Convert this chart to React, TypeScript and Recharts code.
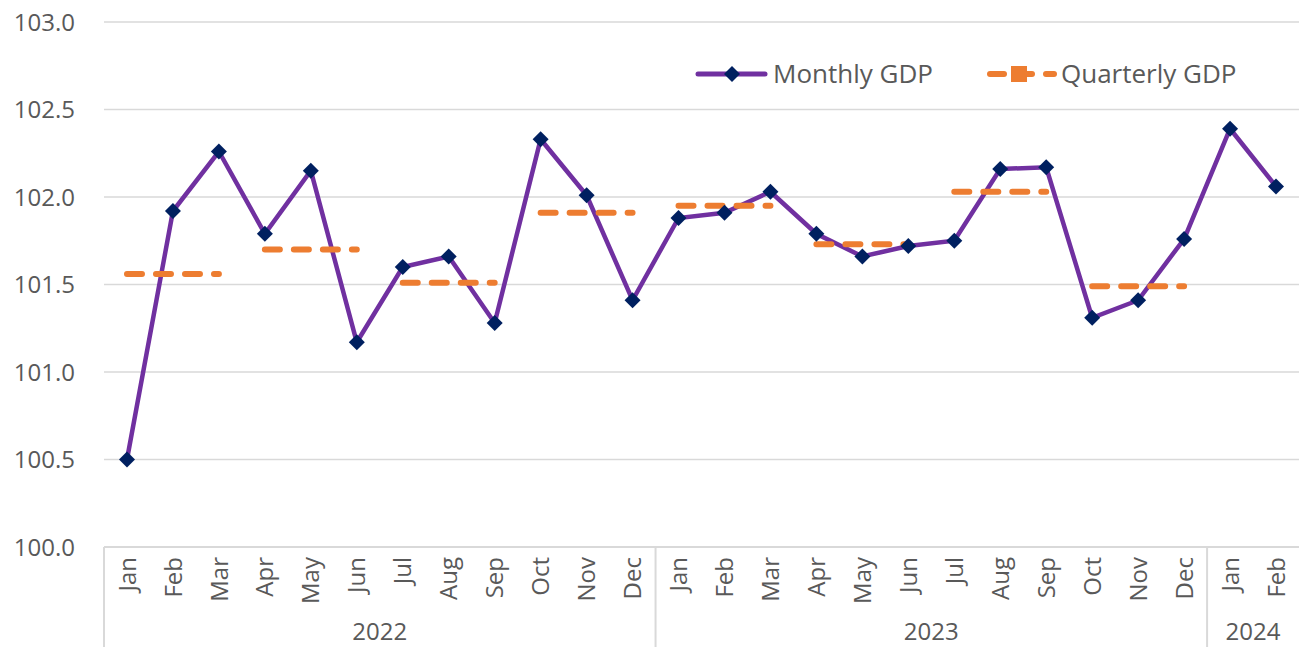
import React from 'react';
import { LineChart, Line, XAxis, YAxis, CartesianGrid, Legend } from 'recharts';

const monthLabels = [
  'Jan', 'Feb', 'Mar', 'Apr', 'May', 'Jun', 'Jul', 'Aug', 'Sep', 'Oct', 'Nov', 'Dec',
  'Jan', 'Feb', 'Mar', 'Apr', 'May', 'Jun', 'Jul', 'Aug', 'Sep', 'Oct', 'Nov', 'Dec',
  'Jan', 'Feb',
];
const yearLabels = ['2022', '2023', '2024'];
const monthsPerYear = [12, 12, 2];

const monthlyGDP = [
  100.50, 101.92, 102.26, 101.79, 102.15, 101.17, 101.60, 101.66, 101.28, 102.33, 102.01, 101.41,
  101.88, 101.91, 102.03, 101.79, 101.66, 101.72, 101.75, 102.16, 102.17, 101.31, 101.41, 101.76,
  102.39, 102.06,
];
const quarterlyGDP = [101.56, 101.70, 101.51, 101.91, 101.95, 101.73, 102.03, 101.49];
const yTicks = [100.0, 100.5, 101.0, 101.5, 102.0, 102.5, 103.0];

const data = monthLabels.map((m, i) => {
  const q = Math.floor(i / 3);
  const qv = q < quarterlyGDP.length ? quarterlyGDP[q] : null;
  return {
    i,
    month: m,
    monthly: monthlyGDP[i],
    qA: q % 2 === 0 ? qv : null,
    qB: q % 2 === 1 ? qv : null,
  };
});

// year boundaries and midpoints in index units
const yearBoundaries: number[] = [];
const yearMids: number[] = [];
{
  let start = 0;
  monthsPerYear.forEach((n) => {
    yearBoundaries.push(start - 0.5);
    yearMids.push(start + (n - 1) / 2);
    start += n;
  });
}
const yearAxisTicks = [...yearBoundaries, ...yearMids].sort((a, b) => a - b);

const FONT = '"Open Sans", sans-serif';
const TEXT = '#595959';
const GRID = '#d9d9d9';

const MonthTick = (props: any) => {
  const { x, y, payload } = props;
  const label = monthLabels[payload.value];
  if (label == null) return null;
  const ty = y + 10;
  return (
    <text
      x={x}
      y={ty}
      transform={`rotate(-90, ${x}, ${ty})`}
      textAnchor="end"
      dy="0.36em"
      fontSize={24}
      fontFamily={FONT}
      fill={TEXT}
    >
      {label}
    </text>
  );
};

const YearTick = (props: any) => {
  const { x, y, payload } = props;
  const v = payload.value;
  const bi = yearBoundaries.indexOf(v);
  if (bi >= 0) {
    return <line x1={x} x2={x} y1={y - 70} y2={y + 30} stroke={GRID} strokeWidth={2} />;
  }
  const mi = yearMids.indexOf(v);
  if (mi >= 0) {
    return (
      <text x={x} y={y + 14} dy="0.36em" textAnchor="middle" fontSize={24} fontFamily={FONT} fill={TEXT}>
        {yearLabels[mi]}
      </text>
    );
  }
  return null;
};

const YTick = (props: any) => {
  const { x, y, payload } = props;
  return (
    <text x={x} y={y} dy="0.36em" textAnchor="end" fontSize={24} fontFamily={FONT} fill={TEXT}>
      {Number(payload.value).toFixed(1)}
    </text>
  );
};

const Diamond = (props: any) => {
  const { cx, cy, index } = props;
  if (cx == null || cy == null) return <g key={`d${index}`} />;
  const w = 8;
  const h = 8;
  return (
    <path
      key={`d${index}`}
      d={`M${cx} ${cy - h} L${cx + w} ${cy} L${cx} ${cy + h} L${cx - w} ${cy} Z`}
      fill="#002060"
    />
  );
};

const LegendContent = () => (
  <svg width={580} height={40} style={{ display: 'block', overflow: 'visible' }}>
    <line x1={8} x2={75} y1={20} y2={20} stroke="#7030A0" strokeWidth={5} strokeLinecap="round" />
    <path d="M42 12 L50 20 L42 28 L34 20 Z" fill="#002060" />
    <text x={83} y={29} fontSize={26} fontFamily={FONT} fill={TEXT}>Monthly GDP</text>
    <line x1={300} x2={314} y1={20} y2={20} stroke="#ED7D31" strokeWidth={6} strokeLinecap="round" />
    <rect x={321} y={12} width={16} height={16} fill="#ED7D31" />
    <line x1={337} x2={342} y1={20} y2={20} stroke="#ED7D31" strokeWidth={6} strokeLinecap="round" />
    <line x1={356} x2={364} y1={20} y2={20} stroke="#ED7D31" strokeWidth={6} strokeLinecap="round" />
    <text x={371} y={29} fontSize={26} fontFamily={FONT} fill={TEXT}>Quarterly GDP</text>
  </svg>
);

export default function App() {
  return (
    <div style={{ position: 'absolute', left: 0, top: 0, fontFamily: FONT, background: '#fff' }}>
      <LineChart width={1299} height={647} data={data} margin={{ top: 22, right: 0, left: 0, bottom: 0 }}>
        <CartesianGrid vertical={false} stroke={GRID} strokeWidth={1.5} />
        <XAxis
          xAxisId="m"
          dataKey="i"
          type="number"
          domain={[-0.5, monthLabels.length - 0.5]}
          ticks={monthLabels.map((_, i) => i)}
          interval={0}
          height={70}
          axisLine={{ stroke: GRID, strokeWidth: 2 }}
          tickLine={false}
          tickSize={0}
          tickMargin={0}
          tick={<MonthTick />}
          allowDataOverflow
        />
        <XAxis
          xAxisId="y"
          dataKey="i"
          type="number"
          domain={[-0.5, monthLabels.length - 0.5]}
          ticks={yearAxisTicks}
          interval={0}
          height={30}
          axisLine={false}
          tickLine={false}
          tickSize={0}
          tickMargin={0}
          tick={<YearTick />}
          allowDataOverflow
        />
        <YAxis
          domain={[100, 103]}
          ticks={yTicks}
          width={104}
          axisLine={false}
          tickLine={false}
          tickSize={0}
          tickMargin={29}
          tick={<YTick />}
          allowDataOverflow
        />
        <Legend
          layout="vertical"
          verticalAlign="middle"
          align="center"
          content={<LegendContent />}
          wrapperStyle={{ position: 'absolute', left: 690, top: 54, width: 580, height: 40 }}
        />
        <Line
          xAxisId="m"
          type="linear"
          dataKey="monthly"
          stroke="#7030A0"
          strokeWidth={4.5}
          dot={<Diamond />}
          activeDot={false}
          isAnimationActive={false}
        />
        <Line
          xAxisId="m"
          type="linear"
          dataKey="qA"
          stroke="#ED7D31"
          strokeWidth={6}
          strokeDasharray="15 14"
          strokeLinecap="round"
          dot={false}
          activeDot={false}
          connectNulls={false}
          isAnimationActive={false}
        />
        <Line
          xAxisId="m"
          type="linear"
          dataKey="qB"
          stroke="#ED7D31"
          strokeWidth={6}
          strokeDasharray="15 14"
          strokeLinecap="round"
          dot={false}
          activeDot={false}
          connectNulls={false}
          isAnimationActive={false}
        />
      </LineChart>
    </div>
  );
}
